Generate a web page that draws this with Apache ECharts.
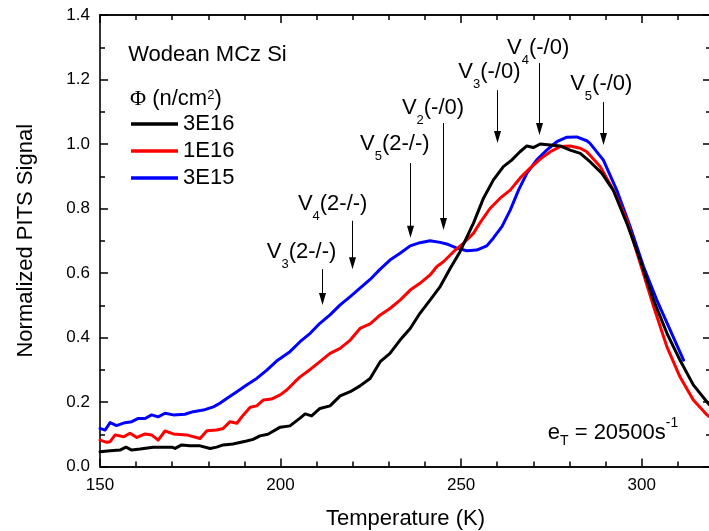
<!DOCTYPE html>
<html><head><meta charset="utf-8">
<script src="https://cdn.jsdelivr.net/npm/echarts@6/dist/echarts.min.js"></script>
<style>html,body{margin:0;padding:0;background:#fff}#c{width:709px;height:531px}</style>
</head><body><div id="c"></div>
<script>
// ---------- data ----------
const seriesNames = ['3E16', '1E16', '3E15'];
const seriesColors = ['#000000', '#ff0000', '#0000ff'];

const T_3E16 = [150.0,152.8,155.5,157.2,158.8,161.1,164.7,169.9,170.8,172.6,174.9,177.7,180.5,182.3,184.1,186.8,190.6,192.4,194.3,196.5,199.9,202.6,205.4,206.8,208.6,210.9,213.7,216.5,219.3,222.0,224.8,227.6,230.3,233.1,235.9,238.6,241.4,244.2,247.0,249.7,252.5,253.4,256.2,258.9,261.7,264.0,266.3,268.2,270.0,271.9,274.7,277.4,280.2,283.0,285.7,289.0,292.2,295.9,299.6,303.3,307.0,310.6,314.3,318.1,318.7];
const S_3E16 = [0.046,0.049,0.051,0.060,0.051,0.054,0.060,0.060,0.056,0.067,0.064,0.064,0.056,0.060,0.067,0.070,0.079,0.084,0.095,0.100,0.122,0.126,0.150,0.163,0.157,0.180,0.188,0.219,0.232,0.250,0.273,0.325,0.351,0.392,0.428,0.475,0.516,0.558,0.615,0.666,0.733,0.754,0.832,0.888,0.930,0.950,0.976,0.994,0.989,1.000,0.997,0.994,0.981,0.971,0.945,0.909,0.855,0.754,0.640,0.516,0.413,0.330,0.253,0.200,0.192];

const T_1E16 = [150.0,151.9,152.8,154.2,156.5,158.3,160.2,162.5,164.3,166.1,168.0,170.3,174.0,177.7,179.6,182.3,184.1,186.0,187.9,189.7,191.6,193.4,195.2,197.5,199.9,201.7,204.0,205.4,208.2,210.9,213.7,216.5,219.3,222.0,224.8,227.6,230.3,233.1,235.9,238.6,241.4,243.3,245.1,247.9,250.6,253.4,255.3,258.0,260.8,263.6,266.3,269.1,271.9,274.7,277.4,280.2,283.0,284.8,288.5,292.2,295.9,299.6,303.3,307.0,310.6,314.3,318.1,318.7];
const S_1E16 = [0.082,0.075,0.077,0.098,0.092,0.103,0.090,0.101,0.098,0.082,0.110,0.101,0.098,0.087,0.111,0.113,0.118,0.139,0.134,0.160,0.184,0.188,0.206,0.209,0.222,0.237,0.263,0.278,0.301,0.325,0.351,0.366,0.392,0.428,0.442,0.470,0.490,0.516,0.547,0.568,0.594,0.620,0.635,0.666,0.692,0.723,0.757,0.800,0.832,0.857,0.894,0.925,0.953,0.976,0.992,0.994,0.987,0.976,0.930,0.857,0.764,0.630,0.496,0.371,0.278,0.206,0.160,0.155];

const T_3E15 = [150.0,151.4,152.8,154.6,156.9,158.8,160.6,162.5,164.3,166.1,168.0,170.3,173.5,175.8,178.6,181.4,183.2,185.1,187.9,190.6,193.4,196.2,198.9,202.6,205.4,208.2,210.9,213.7,216.5,219.3,222.0,224.8,227.6,230.3,233.1,235.9,238.6,241.4,244.2,246.0,248.8,251.6,254.3,257.1,258.9,261.3,263.6,265.9,268.2,270.9,273.7,276.5,279.3,282.0,284.8,285.7,289.4,293.1,296.8,300.5,304.2,307.9,311.6];
const S_3E15 = [0.118,0.113,0.136,0.127,0.136,0.139,0.149,0.149,0.160,0.154,0.165,0.160,0.162,0.170,0.175,0.185,0.196,0.211,0.232,0.253,0.273,0.299,0.327,0.356,0.387,0.413,0.444,0.470,0.501,0.527,0.553,0.580,0.612,0.640,0.661,0.684,0.694,0.700,0.695,0.690,0.677,0.669,0.671,0.684,0.708,0.744,0.795,0.857,0.909,0.950,0.981,1.007,1.021,1.022,1.010,1.002,0.950,0.857,0.744,0.620,0.516,0.423,0.330];

const xTickLabels = [150, 200, 250, 300];
const yTickLabels = [0, 0.2, 0.4, 0.6, 0.8, 1.0, 1.2, 1.4];

// annotation arrows (temperature, top value, tip value) and labels
const arrowT      = [211.5, 219.7, 235.9, 244.9, 259.9, 271.7, 289.4];
const arrowTop    = [0.612, 0.762, 0.941, 1.065, 1.167, 1.251, 1.130];
const arrowTip    = [0.501, 0.612, 0.709, 0.733, 1.003, 1.028, 0.997];
const labelSub    = ['3', '4', '5', '2', '3', '4', '5'];
const labelState  = ['(2-/-)', '(2-/-)', '(2-/-)', '(-/0)', '(-/0)', '(-/0)', '(-/0)'];
const labelT      = [196.2, 204.8, 222.0, 233.6, 249.2, 262.7, 280.2];
const labelV      = [0.664, 0.814, 1.000, 1.113, 1.222, 1.299, 1.186];

const titleText = 'Wodean MCz Si';
const titlePos = [157.8, 1.275];
const fluencePos = [158.3, 1.140];
const rateText = '20500s';
const ratePos = [274.0, 0.105];

// ---------- chart ----------
const FF = 'Liberation Sans, Arial, sans-serif';
const chart = echarts.init(document.getElementById('c'), null, {renderer: 'canvas'});

const axisLineStyle = {color: '#000', width: 1.6};
const X_MIN = 150, X_MAX = 319.2;

function xAx(pos, interval, len, withLabels) {
  return {
    type: 'value', min: X_MIN, max: X_MAX, interval: interval, position: pos,
    axisLine: {show: true, onZero: false, lineStyle: axisLineStyle},
    axisTick: {show: true, inside: true, length: len, lineStyle: {color: '#000', width: 1.5}},
    axisLabel: withLabels ? {
      show: true, margin: 10, fontSize: 17, color: '#000', fontFamily: FF,
      formatter: v => xTickLabels.indexOf(v) >= 0 ? String(v) : ''
    } : {show: false},
    splitLine: {show: false}
  };
}
const xAxes = [
  Object.assign(xAx('bottom', 50, 8, true), {
    name: 'Temperature (K)', nameLocation: 'middle', nameGap: 41,
    nameTextStyle: {fontSize: 22, color: '#000', fontFamily: FF}
  }),
  xAx('bottom', 10, 5, false),
  xAx('top', 50, 8, false),
  xAx('top', 10, 5, false)
];

function yAx(pos, withLabels) {
  return {
    type: 'value', min: 0, max: 1.4, interval: 0.2, position: pos,
    axisLine: {show: true, onZero: false, lineStyle: axisLineStyle},
    axisTick: {show: true, inside: true, length: 8, lineStyle: {color: '#000', width: 1.5}},
    minorTick: {show: true, splitNumber: 2, length: 5, lineStyle: {color: '#000', width: 1.5}},
    axisLabel: withLabels ? {
      show: true, margin: 10, fontSize: 17, color: '#000', fontFamily: FF,
      formatter: v => {
        const m = yTickLabels.find(t => Math.abs(t - v) < 1e-6);
        return m === undefined ? '' : m.toFixed(1);
      }
    } : {show: false},
    splitLine: {show: false}, minorSplitLine: {show: false}
  };
}
const yAxes = [
  Object.assign(yAx('left', true), {
    name: 'Normalized PITS Signal', nameLocation: 'middle', nameGap: 63,
    nameTextStyle: {fontSize: 22, color: '#000', fontFamily: FF}
  }),
  yAx('right', false)
];

function mk(T, S) { return T.map((t, i) => [t, S[i]]); }
const dataSets = [mk(T_3E16, S_3E16), mk(T_1E16, S_1E16), mk(T_3E15, S_3E15)];

chart.setOption({
  animation: false,
  backgroundColor: '#fff',
  grid: {left: 100, right: -2, top: 15, bottom: 64.5, containLabel: false, outerBoundsMode: 'none'},
  xAxis: xAxes,
  yAxis: yAxes,
  legend: {
    orient: 'vertical', left: 131, top: 113, itemWidth: 47, itemHeight: 3.5, itemGap: 5,
    icon: 'rect', padding: 0, selectedMode: false,
    textStyle: {fontSize: 22, color: '#000', fontFamily: FF},
    data: seriesNames
  },
  series: seriesNames.map((n, i) => ({
    name: n, type: 'line', xAxisIndex: 0, yAxisIndex: 0,
    data: dataSets[i], showSymbol: false, symbol: 'none', smooth: false,
    color: seriesColors[i],
    lineStyle: {color: seriesColors[i], width: 3, join: 'round', cap: 'round'},
    z: 10 - i
  }))
});

// ---------- annotations through the chart's own scales ----------
const P = (t, v) => chart.convertToPixel({xAxisIndex: 0, yAxisIndex: 0}, [t, v]);
const g = [];
const richSub = {
  m: {fontSize: 22, fontFamily: FF, fill: '#000', height: 25, verticalAlign: 'top'},
  s: {fontSize: 13, fontFamily: FF, fill: '#000', height: 14, lineHeight: 32, verticalAlign: 'bottom'}
};
for (let i = 0; i < arrowT.length; i++) {
  const a = P(arrowT[i], arrowTop[i]);
  const b = P(arrowT[i], arrowTip[i]);
  const x = Math.round(a[0]) + 0.5;
  g.push({type: 'line', silent: true, shape: {x1: x, y1: a[1], x2: x, y2: b[1] - 10},
          style: {stroke: '#000', lineWidth: 1}});
  g.push({type: 'polygon', silent: true,
          shape: {points: [[x - 3.5, b[1] - 12], [x + 3.5, b[1] - 12], [x, b[1]]]},
          style: {fill: '#000'}});
  const l = P(labelT[i], labelV[i]);
  g.push({type: 'text', silent: true, x: l[0], y: l[1] - 12.5,
          style: {text: '{m|V}{s|' + labelSub[i] + '}{m|' + labelState[i] + '}', rich: richSub,
                  align: 'left', verticalAlign: 'top'}});
}
const tp = P(titlePos[0], titlePos[1]);
g.push({type: 'text', silent: true, x: tp[0], y: tp[1],
        style: {text: titleText, fontSize: 22, fontFamily: FF, fill: '#000', align: 'left', verticalAlign: 'middle'}});
const fp = P(fluencePos[0], fluencePos[1]);
g.push({type: 'text', silent: true, x: fp[0], y: fp[1] - 10.5,
        style: {text: '{f|\u03A6}{m| (n/cm}{p|2}{m|)}', align: 'left', verticalAlign: 'top',
          rich: {
            f: {fontSize: 22, fontFamily: 'Liberation Serif, serif', fill: '#000', height: 25, lineHeight: 23, verticalAlign: 'bottom'},
            m: {fontSize: 22, fontFamily: FF, fill: '#000', height: 25, lineHeight: 23, verticalAlign: 'bottom'},
            p: {fontSize: 13, fontFamily: FF, fill: '#000', height: 14, verticalAlign: 'top'}
          }}});
const rp = P(ratePos[0], ratePos[1]);
g.push({type: 'text', silent: true, x: rp[0], y: rp[1] - 16,
        style: {text: '{m|e}{s|T}{m| = ' + rateText + '}{p|-1}', align: 'left', verticalAlign: 'top',
          rich: {
            m: {fontSize: 22, fontFamily: FF, fill: '#000', height: 25, verticalAlign: 'middle'},
            s: {fontSize: 14, fontFamily: FF, fill: '#000', height: 14, lineHeight: 32, verticalAlign: 'bottom'},
            p: {fontSize: 14, fontFamily: FF, fill: '#000', height: 14, verticalAlign: 'top'}
          }}});
chart.setOption({graphic: g});
</script>
</body></html>
